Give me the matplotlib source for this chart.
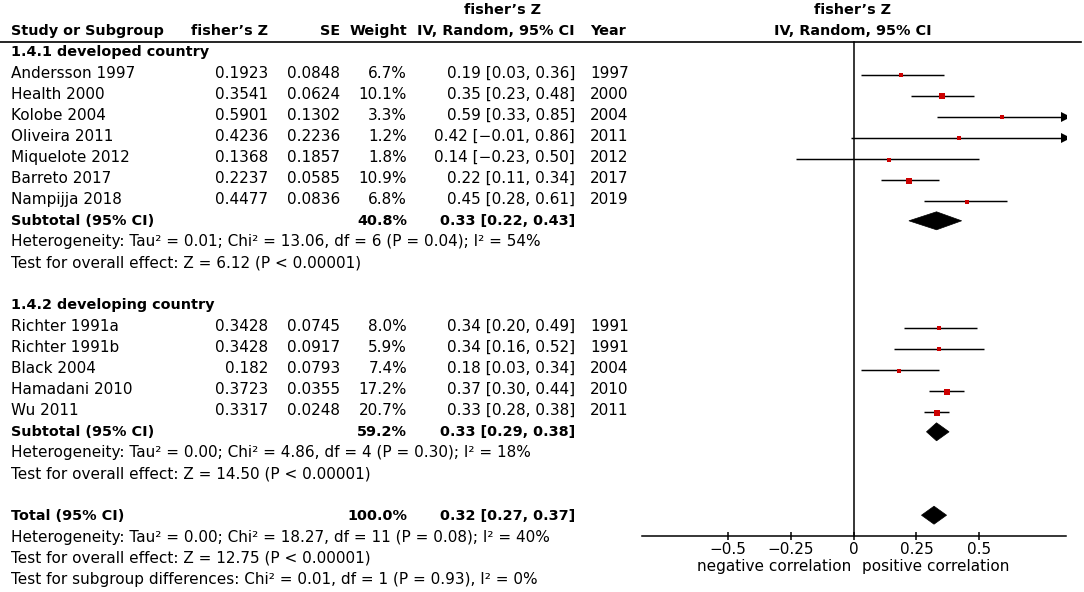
import matplotlib
matplotlib.use('Agg')
import matplotlib.pyplot as plt
import numpy as np
from matplotlib.patches import Polygon

# ---------------- data ----------------
studies1 = ["Andersson 1997", "Health 2000", "Kolobe 2004", "Oliveira 2011",
            "Miquelote 2012", "Barreto 2017", "Nampijja 2018"]
z1 = [0.1923, 0.3541, 0.5901, 0.4236, 0.1368, 0.2237, 0.4477]
se1 = [0.0848, 0.0624, 0.1302, 0.2236, 0.1857, 0.0585, 0.0836]
w1 = [6.7, 10.1, 3.3, 1.2, 1.8, 10.9, 6.8]
est1 = [0.19, 0.35, 0.59, 0.42, 0.14, 0.22, 0.45]
lo1 = [0.03, 0.23, 0.33, -0.01, -0.23, 0.11, 0.28]
hi1 = [0.36, 0.48, 0.85, 0.86, 0.50, 0.34, 0.61]
year1 = ["1997", "2000", "2004", "2011", "2012", "2017", "2019"]
sub1 = (0.33, 0.22, 0.43)
sub1_w = 40.8

studies2 = ["Richter 1991a", "Richter 1991b", "Black 2004", "Hamadani 2010", "Wu 2011"]
z2 = [0.3428, 0.3428, 0.182, 0.3723, 0.3317]
se2 = [0.0745, 0.0917, 0.0793, 0.0355, 0.0248]
w2 = [8.0, 5.9, 7.4, 17.2, 20.7]
est2 = [0.34, 0.34, 0.18, 0.37, 0.33]
lo2 = [0.20, 0.16, 0.03, 0.30, 0.28]
hi2 = [0.49, 0.52, 0.34, 0.44, 0.38]
year2 = ["1991", "1991", "2004", "2010", "2011"]
sub2 = (0.33, 0.29, 0.38)
sub2_w = 59.2

total = (0.32, 0.27, 0.37)
total_w = 100.0

group_titles = ["1.4.1 developed country", "1.4.2 developing country"]
het1 = "Heterogeneity: Tau² = 0.01; Chi² = 13.06, df = 6 (P = 0.04); I² = 54%"
eff1 = "Test for overall effect: Z = 6.12 (P < 0.00001)"
het2 = "Heterogeneity: Tau² = 0.00; Chi² = 4.86, df = 4 (P = 0.30); I² = 18%"
eff2 = "Test for overall effect: Z = 14.50 (P < 0.00001)"
hett = "Heterogeneity: Tau² = 0.00; Chi² = 18.27, df = 11 (P = 0.08); I² = 40%"
efft = "Test for overall effect: Z = 12.75 (P < 0.00001)"
subg = "Test for subgroup differences: Chi² = 0.01, df = 1 (P = 0.93), I² = 0%"

xticks = [-0.5, -0.25, 0, 0.25, 0.5]
xticklabels = ["\u22120.5", "\u22120.25", "0", "0.25", "0.5"]

# ---------------- layout ----------------
W, H = 1084, 592
FS = 11.0      # regular text
FSB = 10.4     # bold text
plt.rcParams['font.family'] = ["DejaVu Sans"]
RED = "#CC0000"

fig = plt.figure(figsize=(W / 100, H / 100), dpi=100)
tax = fig.add_axes([0, 0, 1, 1])
tax.set_xlim(0, W)
tax.set_ylim(H, 0)
tax.axis('off')

# forest axes: pixel range 642..1066, zero at 853.7, 251 px per unit
px0, px1, zero_px, scale = 642, 1066, 853.7, 251.0
xmin = (px0 - zero_px) / scale
xmax = (px1 - zero_px) / scale
fax = fig.add_axes([px0 / W, 0, (px1 - px0) / W, 1])
fax.set_xlim(xmin, xmax)
fax.set_ylim(H, 0)
fax.patch.set_visible(False)
for s in ['left', 'right', 'top']:
    fax.spines[s].set_visible(False)
AXIS_Y = 536
fax.spines['bottom'].set_position(('data', AXIS_Y))
fax.spines['bottom'].set_linewidth(1.1)
fax.set_yticks([])
fax.set_xticks(xticks)
fax.set_xticklabels(xticklabels, fontsize=FS)
fax.tick_params(axis='x', direction='inout', length=6, width=1.1, pad=1.5)

ROW0, DR = 52.0, 21.1
def ry(i):
    return ROW0 + DR * i

X_STUDY, X_FZ, X_SE, X_W, X_CI, X_YEAR = 11, 268, 340, 407, 575, 590
X_FHDR = 502

def txt(x, y, s, ha='left', bold=False):
    tax.text(x, y, s, ha=ha, va='center', fontsize=FSB if bold else FS,
             fontweight='bold' if bold else 'normal', color='black')

# headers
HY = 31
txt(X_STUDY, HY, "Study or Subgroup", bold=True)
txt(X_FZ, HY, "fisher\u2019s Z", ha='right', bold=True)
txt(X_SE, HY, "SE", ha='right', bold=True)
txt(X_W, HY, "Weight", ha='right', bold=True)
txt(X_FHDR, 10, "fisher\u2019s Z", ha='center', bold=True)
txt(X_CI, HY, "IV, Random, 95% CI", ha='right', bold=True)
txt(X_YEAR, HY, "Year", bold=True)
txt(zero_px - 1, 10, "fisher\u2019s Z", ha='center', bold=True)
txt(zero_px - 1, HY, "IV, Random, 95% CI", ha='center', bold=True)
tax.plot([0, 1081], [42, 42], color='black', lw=1.2)

# zero line
fax.plot([0, 0], [42, AXIS_Y], color='black', lw=1.1)

def ci_str(e, l, h):
    def f(v):
        return ("\u2212" if v < 0 else "") + f"{abs(v):.2f}"
    return f"{f(e)} [{f(l)}, {f(h)}]"

def draw_study(i, name, z, se, w, e, l, h, yr):
    y = ry(i)
    txt(X_STUDY, y, name)
    txt(X_FZ, y, f"{z}", ha='right')
    txt(X_SE, y, f"{se}", ha='right')
    txt(X_W, y, f"{w:.1f}%", ha='right')
    txt(X_CI, y, ci_str(e, l, h), ha='right')
    txt(X_YEAR, y, yr)
    yy = y + 1.5
    lc = max(l, xmin)
    hc = min(h, xmax)
    fax.plot([lc, hc], [yy, yy], color='black', lw=1.05, solid_capstyle='butt')
    if h > xmax:
        fax.plot([xmax], [yy], marker='>', color='black', markersize=7,
                 markeredgewidth=0)
    side_px = 1.8 + 1.1 * np.sqrt(w)
    fax.plot([e], [yy + 0.5], marker='s', color=RED, markersize=side_px * 0.72,
             markeredgewidth=0, zorder=5)

def diamond(y, e, l, h):
    poly = Polygon([(l, y), (e, y - 9), (h, y), (e, y + 9)], closed=True,
                   facecolor='black', edgecolor='black', lw=0.5)
    fax.add_patch(poly)

# group 1
txt(X_STUDY, ry(0), group_titles[0], bold=True)
for k in range(len(studies1)):
    draw_study(1 + k, studies1[k], z1[k], se1[k], w1[k], est1[k], lo1[k], hi1[k], year1[k])
txt(X_STUDY, ry(8), "Subtotal (95% CI)", bold=True)
txt(X_W, ry(8), f"{sub1_w:.1f}%", ha='right', bold=True)
txt(X_CI, ry(8), ci_str(*sub1), ha='right', bold=True)
diamond(ry(8), *sub1)
txt(X_STUDY, ry(9), het1)
txt(X_STUDY, ry(10), eff1)

# group 2
txt(X_STUDY, ry(12), group_titles[1], bold=True)
for k in range(len(studies2)):
    draw_study(13 + k, studies2[k], z2[k], se2[k], w2[k], est2[k], lo2[k], hi2[k], year2[k])
txt(X_STUDY, ry(18), "Subtotal (95% CI)", bold=True)
txt(X_W, ry(18), f"{sub2_w:.1f}%", ha='right', bold=True)
txt(X_CI, ry(18), ci_str(*sub2), ha='right', bold=True)
diamond(ry(18), *sub2)
txt(X_STUDY, ry(19), het2)
txt(X_STUDY, ry(20), eff2)

# total
txt(X_STUDY, ry(22), "Total (95% CI)", bold=True)
txt(X_W, ry(22), f"{total_w:.1f}%", ha='right', bold=True)
txt(X_CI, ry(22), ci_str(*total), ha='right', bold=True)
diamond(ry(22) - 1, *total)
txt(X_STUDY, ry(23), hett)
txt(X_STUDY, ry(24), efft)
txt(X_STUDY, ry(25), subg)

# axis direction labels
fax.text(-0.01, 567, "negative correlation", ha='right', va='center', fontsize=FS)
fax.text(0.033, 567, "positive correlation", ha='left', va='center', fontsize=FS)

fig.savefig("out.png", dpi=100)
